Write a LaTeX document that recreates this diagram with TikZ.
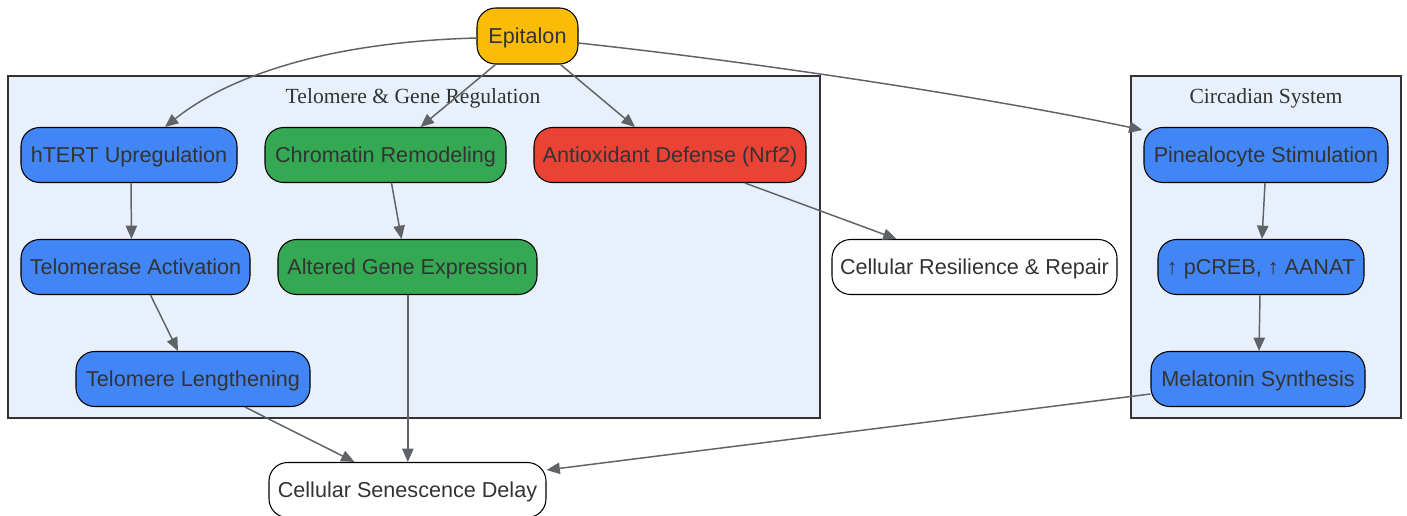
\documentclass[tikz,border=0pt]{standalone}
\usepackage{fontspec}
\setmainfont{Liberation Serif}
\newfontfamily\nodefont{Liberation Sans}
\usetikzlibrary{arrows.meta,calc}
\definecolor{gblue}{HTML}{4285F4}
\definecolor{ggreen}{HTML}{34A853}
\definecolor{gred}{HTML}{EA4335}
\definecolor{gyellow}{HTML}{FBBC05}
\definecolor{clfill}{HTML}{E8F0FC}
\definecolor{edgec}{HTML}{5F6368}
\definecolor{txt}{HTML}{333333}
\tikzset{
  box/.style={draw=black, line width=0.8pt, rounded corners=14pt, minimum height=41.25pt,
    inner sep=0pt, text=txt, font=\nodefont\fontsize{16.2}{19}\selectfont, align=center,
    text height=12pt, text depth=1pt},
  wid/.style={minimum width=#1},
  cluster/.style={draw=txt, line width=1.1pt, fill=clfill},
  cltitle/.style={text=txt, font=\fontsize{16.2}{19}\selectfont, inner sep=0pt,
    text height=11.5pt, text depth=1pt},
  edge/.style={draw=edgec, line width=1.1pt, -{Triangle[length=10pt,width=8.5pt]}},
}
\begin{document}
\begin{tikzpicture}[x=0.75pt,y=-0.75pt]
\useasboundingbox (0,0) rectangle (1407,515);
\fill[white] (0,0) rectangle (1407,515);
% clusters
\draw[cluster] (8,76) rectangle (820,418);
\draw[cluster] (1131,76) rectangle (1401,418);
\node[cltitle] (t1) at (413,96) {Telomere \& Gene Regulation};
\node[cltitle] (t2) at (1266,96) {Circadian System};
% nodes
\node[box, wid=75.75pt, minimum height=42pt, fill=gyellow] (epi) at (527.5,36) {Epitalon};
\node[box, wid=162pt, fill=gblue] (htert) at (129,155) {hTERT Upregulation};
\node[box, wid=180.75pt, fill=ggreen] (chrom) at (385.5,155) {Chromatin Remodeling};
\node[box, wid=204pt, fill=gred] (anti) at (670,155) {Antioxidant Defense (Nrf2)};
\node[box, wid=183pt, fill=gblue] (pine) at (1266,155) {Pinealocyte Stimulation};
\node[box, wid=171.75pt, fill=gblue] (telo) at (135.5,267) {Telomerase Activation};
\node[box, wid=194.25pt, fill=ggreen] (alt) at (407.5,267) {Altered Gene Expression};
\node[box, wid=213.75pt, fill=white] (res) at (974.5,267) {Cellular Resilience \& Repair};
\node[box, wid=154.5pt, fill=gblue] (pcreb) at (1261,267) {↑ pCREB, ↑ AANAT};
\node[box, wid=175.5pt, fill=gblue] (tl) at (193,379) {Telomere Lengthening};
\node[box, wid=160.5pt, fill=gblue] (mel) at (1258,379) {Melatonin Synthesis};
\node[box, wid=207.75pt, fill=white] (sen) at (407.5,490) {Cellular Senescence Delay};
% edges
\draw[edge] ($(epi.west)+(0,2)$) .. controls (330,42) and (230,75) .. ($(htert.north)+(36,0)$);
\draw[edge] ($(epi.south)+(-32,0)$) -- ($(chrom.north)+(35,0)$);
\draw[edge] ($(epi.south)+(33,0)$) -- ($(anti.north)+(-35,0)$);
\draw[edge] ($(epi.east)+(0,7)$) .. controls (780,65) and (1000,100) .. ($(pine.north west)+(-1,3)$);
\draw[edge] ($(htert.south)+(2,0)$) -- ($(telo.north)+(-4,0)$);
\draw[edge] ($(telo.south)+(15,0)$) -- ($(tl.north)+(-15,0)$);
\draw[edge] ($(chrom.south)+(6,0)$) -- ($(alt.north)+(-6,0)$);
\draw[edge] ($(anti.south)+(75,0)$) -- ($(res.north)+(-78,0)$);
\draw[edge] ($(pine.south)+(-1,0)$) -- ($(pcreb.north)+(1,0)$);
\draw[edge] ($(pcreb.south)+(-1,0)$) -- ($(mel.north)+(1,0)$);
\draw[edge] ($(tl.south)+(52,0)$) -- ($(sen.north)+(-53,0)$);
\draw[edge] ($(alt.south)+(0.3,0)$) -- ($(sen.north)+(0.3,0)$);
\draw[edge] ($(mel.west)+(0,15)$) -- ($(sen.east)+(0,-20)$);
\end{tikzpicture}
\end{document}
